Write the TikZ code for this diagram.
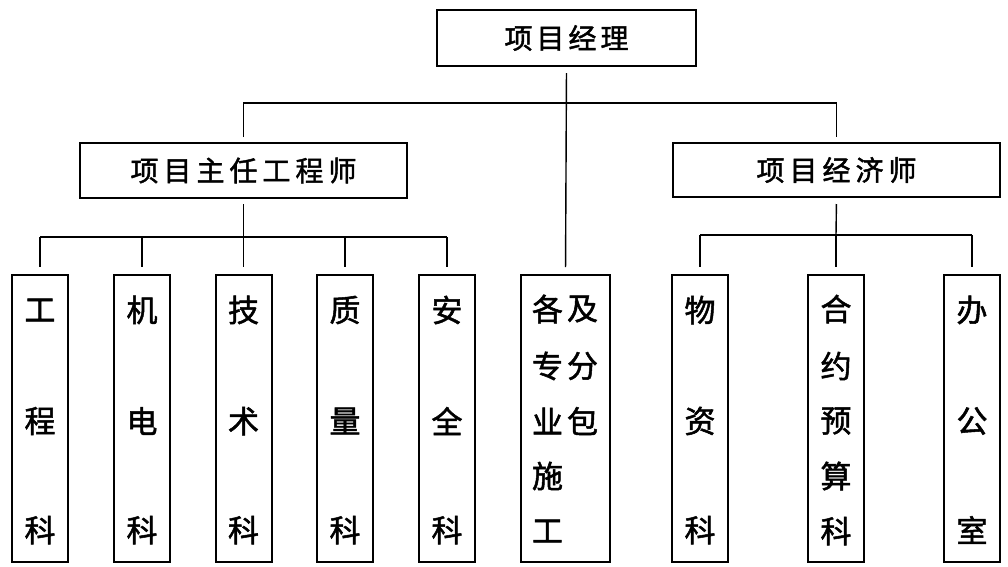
\documentclass[tikz,border=0pt]{standalone}
\usepackage{fontspec}
\newfontfamily\cjk[AutoFakeBold=1.6]{Noto Sans CJK SC}
\begin{document}
\begin{tikzpicture}[x=1pt,y=-1pt,
  box/.style={draw, line width=2pt, inner sep=0pt},
  vbox/.style={box, minimum width=56pt, minimum height=287pt},
  conn/.style={line width=1.4pt},
  lbl/.style={font=\cjk\bfseries\fontsize{31}{31}\selectfont, inner sep=0pt},
  hlbl/.style={font=\cjk\bfseries\fontsize{28}{28}\selectfont, inner sep=0pt}]
\useasboundingbox[fill=white] (0,0) rectangle (1008,566);

% top-level boxes
\node[box, minimum width=259pt, minimum height=56pt] (pm) at (566.5,38) {};
\node[hlbl] (pmt) at (pm.center) {项\hspace{4pt}目\hspace{4pt}经\hspace{4pt}理};
\node[box, minimum width=327pt, minimum height=55pt] (chief) at (243.5,170.5) {};
\node[hlbl] (chieft) at (chief.center) {项\hspace{5pt}目\hspace{5pt}主\hspace{5pt}任\hspace{5pt}工\hspace{5pt}程\hspace{5pt}师};
\node[box, minimum width=327pt, minimum height=54pt] (econ) at (836.5,170) {};
\node[hlbl] (econt) at (econ.center) {项\hspace{5pt}目\hspace{5pt}经\hspace{5pt}济\hspace{5pt}师};

% bottom boxes
\foreach \n/\x in {gc/40, jd/142, js/243.5, zl/345, aq/447, wz/700, hy/836, bg/972}
  \node[vbox] (\n) at (\x,418.5) {};
\node[box, minimum width=89pt, minimum height=287pt] (fb) at (565.5,418.5) {};

% three-character labels
\foreach \n/\a/\b/\c in {gc/工/程/科, jd/机/电/科, js/技/术/科, zl/质/量/科, aq/安/全/科, wz/物/资/科, bg/办/公/室} {
  \node[lbl] (\n-a) at ([yshift=-36pt]\n.north) {\a};
  \node[lbl] (\n-b) at ([yshift=-147pt]\n.north) {\b};
  \node[lbl] (\n-c) at ([yshift=-256pt]\n.north) {\c};
}
% five-character label
\foreach \i/\ch/\d in {1/合/35, 2/约/92, 3/预/147, 4/算/202, 5/科/257}
  \node[lbl] (hy-\i) at ([yshift=-\d pt]hy.north) {\ch};
% two-column label
\foreach \i/\ch/\d in {1/各/35, 2/专/92, 3/业/147, 4/施/202, 5/工/257}
  \node[lbl] (fbl-\i) at ([xshift=-18pt, yshift=-\d pt]fb.north) {\ch};
\foreach \i/\ch/\d in {1/及/35, 2/分/92, 3/包/147}
  \node[lbl] (fbr-\i) at ([xshift=17pt, yshift=-\d pt]fb.north) {\ch};

% connectors
\coordinate (bus1) at (566,103);
\coordinate (bus2) at (243.5,237);
\coordinate (bus3) at (836,235);
\draw[conn, shorten <=6pt, shorten >=7pt] (pm.south) -- (fb.north);
\draw[conn, shorten <=5pt, shorten >=5pt] (chief.north) -- (chief.north |- bus1) -- (econ.north |- bus1) -- (econ.north);

\draw[conn, shorten <=5pt] (chief.south) -- (bus2);
\draw[conn] (gc.north |- bus2) -- (aq.north |- bus2);
\foreach \n in {gc, jd, js, zl, aq}
  \draw[conn, shorten >=7pt] (\n.north |- bus2) -- (\n.north);

\draw[conn, shorten <=6pt] (econ.south) -- (bus3);
\draw[conn] (wz.north |- bus3) -- (bg.north |- bus3);
\foreach \n in {wz, hy, bg}
  \draw[conn, shorten >=7pt] (\n.north |- bus3) -- (\n.north);
\end{tikzpicture}
\end{document}
